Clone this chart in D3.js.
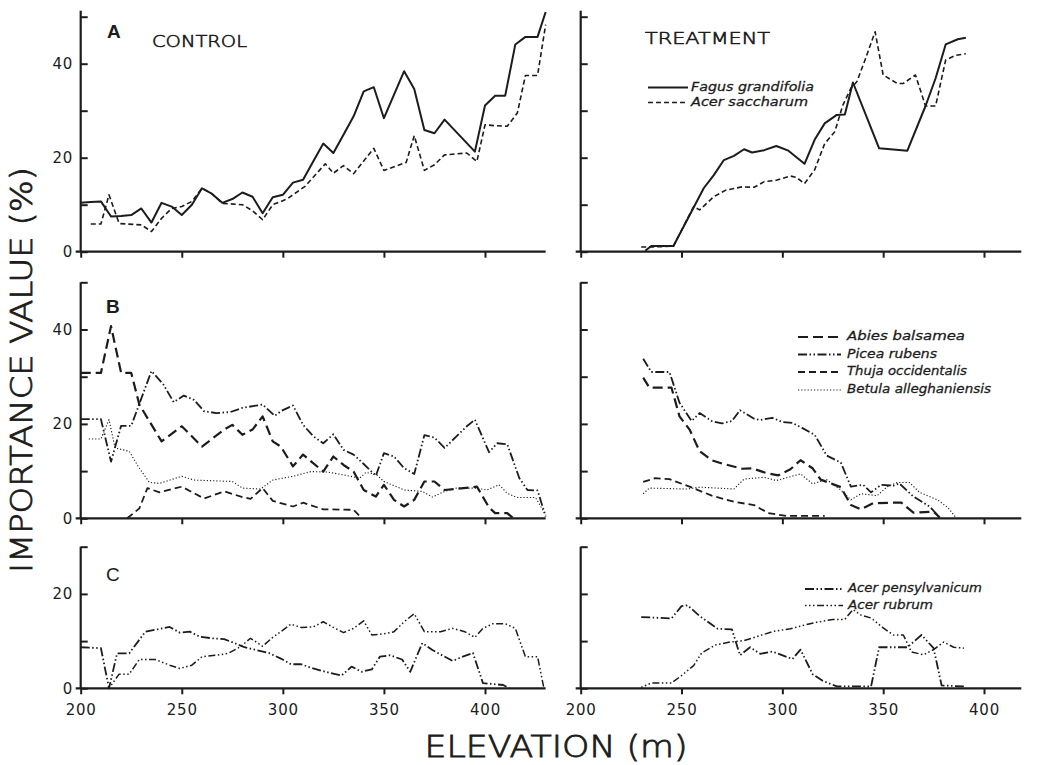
<!DOCTYPE html>
<html><head><meta charset="utf-8">
<script src="https://cdn.jsdelivr.net/npm/d3@7"></script>
<style>body{margin:0;background:#fff}</style>
</head><body><svg id="c" width="1047" height="765"></svg>
<script>
// ---------- DATA: [elevation (m), importance value (%)] ----------
// Panel A
const ctrlFagus = [[200,10.4],[205,10.6],[210,10.7],[215,7.5],[220,7.6],[225,7.8],[230,9.2],[235,6.2],[240,10.4],[245,9.6],[250,7.8],[255,10],[260,13.5],[265,12.3],[270,10.4],[275,11.2],[280,12.6],[285,11.7],[290,8.2],[295,11.6],[300,12.1],[305,14.7],[310,15.3],[315,19.2],[320,23],[325,21],[330,24.9],[335,28.8],[340,34.1],[345,35],[350,28.4],[355,33.4],[360,38.4],[365,34.6],[370,25.9],[375,25.2],[380,28.1],[395,21.3],[400,31.1],[405,33.2],[410,33.2],[415,44.1],[420,45.7],[426,45.7],[430,51]];
const ctrlAcerSacch = [[205,5.9],[210,5.9],[214,12.1],[219,6],[230,5.7],[235,4.3],[240,7.1],[245,9.2],[250,9.6],[255,10.7],[260,13.5],[265,12.3],[270,10.3],[280,10],[285,8.7],[290,6.8],[295,10],[302,11.2],[311,13.9],[316,16.3],[321,18.7],[325,16.7],[330,18.3],[335,16.6],[345,22],[350,17.3],[361,19],[365,24.7],[370,17.3],[375,18.5],[380,20.6],[391,21],[396,19.2],[400,27],[405,26.8],[411,26.7],[416,29.5],[420,37.5],[426,37.5],[430,48.3]];
const trtFagus = [[232,0.2],[235,1.2],[246,1.2],[261,13.5],[266,16.3],[271,19.5],[276,20.4],[281,21.8],[285,21.1],[291,21.6],[297,22.5],[303,21.5],[311,18.7],[316,23.8],[321,27.3],[327,29.1],[331,29.2],[335,36],[348,22],[362,21.5],[371,31],[376,36.9],[381,44.1],[387,45.2],[391,45.5]];
const trtAcerSacch = [[230,1],[236,1],[246,1.2],[256,9.6],[259,8.9],[266,11.7],[272,13.1],[280,13.8],[286,13.7],[291,14.9],[297,15.2],[304,16.1],[307,15.8],[311,14.5],[316,17.4],[321,23],[326,25.5],[330,31.2],[334,34.8],[337,36.2],[341,40.8],[346,46.8],[350,37.6],[357,35.8],[360,35.8],[366,37.6],[371,31],[376,31],[381,40.8],[386,41.8],[391,42.1]];
// Panel B
const ctrlAbies = [[200,30.8],[210,30.8],[215,40.7],[220,30.8],[225,30.8],[229,24.1],[240,16.3],[250,19.5],[260,15.2],[271,18.8],[275,19.8],[280,17.7],[285,18.8],[290,21.6],[295,16.3],[299,15.2],[305,11],[310,13.5],[320,9.9],[325,13.1],[330,11.3],[335,9.9],[340,6],[346,4.6],[350,7.1],[355,3.9],[360,2.5],[365,3.9],[370,7.8],[375,7.8],[380,6],[396,6.7],[402,2.3],[405,1.1],[411,1.1],[414,0]];
const ctrlPicea = [[200,21],[210,21],[215,12],[220,19.6],[225,19.6],[235,31.2],[241,28.3],[246,24.6],[251,26],[256,25.1],[261,22.7],[267,22.3],[274,22.5],[280,23.4],[290,24.1],[296,21.7],[299,22.7],[305,23.9],[310,19.8],[315,17.4],[320,15.9],[325,17.8],[330,14.5],[335,13.5],[340,11.5],[346,9],[350,13.8],[355,13.1],[360,10.6],[365,9.4],[370,17.6],[375,17.1],[380,14.9],[386,17.4],[391,19.5],[395,20.9],[402,14],[406,15.9],[411,15.7],[417,8.5],[421,6],[426,5.9],[430,0.4]];
const ctrlThuja = [[223,0],[229,2.1],[233,6.4],[239,5.5],[250,6.7],[261,4.2],[271,5.7],[280,4.5],[284,4.1],[290,6.4],[295,3.7],[305,2.5],[310,3.3],[320,1.9],[335,1.8],[339,0]];
const ctrlBetula = [[204,16.8],[210,16.8],[214,20.9],[217,14.9],[224,14.2],[229,10.6],[234,7.6],[239,7.4],[250,8.9],[256,8.1],[275,7.8],[280,6.4],[289,6.2],[295,8.1],[305,8.9],[314,9.9],[322,9.8],[330,9.2],[338,8.5],[341,9.7],[346,9.4],[350,7.8],[360,6],[369,5.7],[374,4.5],[380,5.7],[386,6.4],[395,6.4],[401,6],[407,7.1],[411,5.3],[416,4.4],[425,4.4],[430,0.7]];
const trtAbies = [[231,29.8],[234,27.7],[245,27.7],[249,21.6],[254,18.8],[259,14.2],[265,12.3],[271,11.5],[280,10.5],[285,10.6],[292,9.6],[298,9.1],[304,10.4],[309,12.3],[315,10.6],[319,8.2],[329,6.6],[334,2.8],[339,1.9],[345,3.2],[355,3.3],[359,3.3],[365,1.2],[375,1.4],[378,0.2]];
const trtPicea = [[231,33.8],[235,31],[244,31],[249,24.5],[255,20.6],[259,22.3],[265,20.6],[270,20.1],[275,20.6],[279,22.9],[286,21.1],[289,20.8],[295,21.3],[300,20.4],[305,20.2],[310,19.1],[316,17.7],[322,13.3],[329,11.8],[334,6.7],[340,7.1],[344,5.5],[349,7.1],[355,6.9],[358,7.4],[365,4.6],[373,2.5],[378,0.2]];
const trtThuja = [[231,7.7],[237,8.5],[244,8.3],[254,6.7],[265,4.8],[276,3.5],[286,2.8],[293,1.1],[302,0.5],[321,0.5]];
const trtBetula = [[231,5.2],[234,6.4],[253,6.2],[259,6.6],[276,6.2],[281,8.3],[291,8.7],[297,8],[309,9.4],[315,7.3],[322,8.2],[329,6],[334,3.9],[339,5.2],[347,4.8],[352,6.7],[357,7.6],[363,7.6],[368,5.5],[377,3.9],[382,2.3],[386,0.2]];
// Panel C
const ctrlPensyl = [[200,8.7],[210,8.5],[214,0],[218,7.4],[224,7.4],[232,12],[238,12.5],[244,13],[249,11.8],[254,12],[259,10.9],[265,10.6],[271,10.4],[276,9.6],[281,8.7],[287,8.1],[293,7.5],[299,6.3],[304,5.1],[309,5.1],[315,4.2],[321,3.5],[329,2.7],[334,4.6],[339,3.5],[344,4],[348,6.7],[353,7],[359,6.1],[363,3.5],[369,9.6],[374,8.1],[384,5.8],[389,6.7],[394,7.5],[399,1.1],[409,0.7],[412,0]];
const ctrlRubrum = [[214,0],[219,3],[224,3],[229,6.1],[237,6.1],[244,4.9],[249,4.2],[255,4.9],[260,6.7],[267,7],[273,7.4],[279,8.8],[284,10.6],[290,8.9],[295,10.8],[299,12],[304,13.6],[309,12.9],[315,13],[320,14.1],[325,12.9],[330,11.8],[335,12.7],[340,14.3],[344,11.3],[351,11.6],[355,12],[360,14.1],[365,15.8],[370,12],[378,12],[384,12.7],[390,12],[395,10.8],[399,12.7],[404,13.7],[410,13.7],[415,12.7],[420,6.7],[426,6.7],[429,0.3]];
const trtPensyl = [[230,15.1],[245,14.8],[250,17.4],[253,17.6],[259,15.3],[268,12.6],[275,12.5],[279,7],[284,8.7],[289,7.3],[295,7.8],[305,6.2],[309,8.2],[315,3],[320,1.6],[327,0.4],[344,0.4],[348,8.7],[362,8.7],[369,11.3],[375,8.5],[379,0.6],[390,0.4]];
const trtRubrum = [[230,0.2],[235,1.1],[245,1.1],[250,2.7],[256,4.8],[260,7.5],[267,9.2],[274,9.8],[281,10.1],[287,10.9],[296,12.1],[304,12.6],[310,13.3],[317,14],[325,14.6],[331,14.6],[335,16.7],[339,15.5],[344,14.9],[350,12.8],[355,11.3],[360,11.3],[364,7.7],[370,7.1],[375,8.2],[380,9.8],[385,8.7],[390,8.5]];

// tick values / labels
const xTicks = [200,250,300,350,400];
const yTicksAB = [0,10,20,30,40,50];
const yLabelsAB = [0,20,40];
const yTicksC = [0,10,20,30];
const yLabelsC = [0,20];
const panelLetters = ["A","B","C"];
const colTitles = ["CONTROL","TREATMENT"];
const legendA = ["Fagus grandifolia","Acer saccharum"];
const legendB = ["Abies balsamea","Picea rubens","Thuja occidentalis","Betula alleghaniensis"];
const legendC = ["Acer pensylvanicum","Acer rubrum"];

// ---------- STYLES ----------
const ink = "#1c1c1c";
const st = {
  fagus:  {dash:null, w:2},
  sacch:  {dash:"5,3", w:1.6},
  abies:  {dash:"10,5", w:2.2},
  picea:  {dash:"9,2.5,1.5,2.5,1.5,2.5", w:1.8},
  thuja:  {dash:"7,4", w:1.8},
  betula: {dash:"1.2,2", w:1.1},
  pensyl: {dash:"9,2.5,1.5,2.5,1.5,2.5", w:1.8},
  rubrum: {dash:"1.5,2.5,1.5,2.5,1.5,2.5,7,2.5", w:1.5}
};

const svg = d3.select("#c");
const fontTick = "'DejaVu Sans', sans-serif";

const cols = [
  {x: d3.scaleLinear([200,430],[80.7, 80.7+230*2.0215])},
  {x: d3.scaleLinear([200,418.5],[580.7, 580.7+218.5*2.0165])}
];
const rows = [
  {y: d3.scaleLinear([0,50],[251.7,16.7]), ticks:yTicksAB, labels:yLabelsAB, ext:6,
   series:[[ [ctrlFagus,"fagus"],[ctrlAcerSacch,"sacch"] ], [ [trtFagus,"fagus"],[trtAcerSacch,"sacch"] ]]},
  {y: d3.scaleLinear([0,50],[518.3,282.3]), ticks:yTicksAB, labels:yLabelsAB, ext:0,
   series:[[ [ctrlAbies,"abies"],[ctrlPicea,"picea"],[ctrlThuja,"thuja"],[ctrlBetula,"betula"] ],
           [ [trtAbies,"abies"],[trtPicea,"picea"],[trtThuja,"thuja"],[trtBetula,"betula"] ]]},
  {y: d3.scaleLinear([0,30],[688.3,546.7]), ticks:yTicksC, labels:yLabelsC, ext:0,
   series:[[ [ctrlPensyl,"pensyl"],[ctrlRubrum,"rubrum"] ], [ [trtPensyl,"pensyl"],[trtRubrum,"rubrum"] ]]}
];

rows.forEach((row, ri) => {
  cols.forEach((col, ci) => {
    const x = col.x, y = row.y;
    const g = svg.append("g");
    // y axis
    const ya = g.append("g").attr("transform", `translate(${x(200)},0)`)
      .call(d3.axisLeft(y).tickValues(row.ticks).tickSizeInner(-7).tickSizeOuter(0).tickPadding(8)
        .tickFormat(d => (ci === 0 && row.labels.includes(d)) ? d : ""));
    ya.select(".domain").remove();
    ya.selectAll("line").attr("stroke", ink).attr("stroke-width", 2);
    ya.selectAll("text").attr("font-family", fontTick).attr("font-size", 15).attr("fill", ink).attr("letter-spacing", 0.5);
    g.append("line").attr("x1", x(200)).attr("x2", x(200))
      .attr("y1", y(0)).attr("y2", y(row.ticks[row.ticks.length-1]) - row.ext)
      .attr("stroke", ink).attr("stroke-width", 2.2);
    // x axis
    const xa = g.append("g").attr("transform", `translate(0,${y(0)})`)
      .call(d3.axisBottom(x).tickValues(xTicks).tickSizeInner(6).tickSizeOuter(0).tickPadding(10)
        .tickFormat(d => ri === 2 ? d : ""));
    xa.select(".domain").remove();
    xa.selectAll("line").attr("stroke", ink).attr("stroke-width", 2);
    xa.selectAll("text").attr("font-family", fontTick).attr("font-size", 15).attr("fill", ink).attr("letter-spacing", 0.8);
    g.append("line").attr("x1", x(200) - 5).attr("x2", x.range()[1])
      .attr("y1", y(0)).attr("y2", y(0)).attr("stroke", ink).attr("stroke-width", 2.2);
    // data lines
    const line = d3.line().x(d => x(d[0])).y(d => y(d[1]));
    row.series[ci].forEach(([data, key]) => {
      const s = st[key];
      g.append("path").datum(data).attr("d", line)
        .attr("fill", "none").attr("stroke", ink).attr("stroke-width", s.w)
        .attr("stroke-dasharray", s.dash).attr("stroke-linejoin", "round");
    });
  });
});

// panel letters
const letterPos = [[107,38,"bold"],[106,313,"bold"],[106,581,"normal"]];
panelLetters.forEach((t,i) => {
  svg.append("text").attr("x", letterPos[i][0]).attr("y", letterPos[i][1])
    .attr("font-family", "'Liberation Sans', Arial, sans-serif").attr("font-size", 19)
    .attr("font-weight", letterPos[i][2]).attr("fill", ink).text(t);
});

// column titles
svg.append("text").attr("x", 152).attr("y", 46.5).attr("font-family", fontTick).attr("font-weight", 200)
  .attr("stroke", ink).attr("stroke-width", 0.6)
  .attr("font-size", 16).attr("fill", ink).attr("textLength", 95).attr("lengthAdjust", "spacingAndGlyphs").text(colTitles[0]);
svg.append("text").attr("x", 645).attr("y", 44).attr("font-family", fontTick).attr("font-weight", 200)
  .attr("stroke", ink).attr("stroke-width", 0.6)
  .attr("font-size", 16).attr("fill", ink).attr("textLength", 125).attr("lengthAdjust", "spacingAndGlyphs").text(colTitles[1]);

// axis titles
svg.append("text").attr("transform", "translate(32,370) rotate(-90)").attr("text-anchor", "middle")
  .attr("font-family", fontTick).attr("font-weight", 200).attr("font-size", 30).attr("fill", ink)
  .attr("stroke", ink).attr("stroke-width", 0.8)
  .attr("textLength", 406).attr("lengthAdjust", "spacingAndGlyphs").text("IMPORTANCE VALUE (%)");
svg.append("text").attr("x", 556).attr("y", 757).attr("text-anchor", "middle")
  .attr("font-family", fontTick).attr("font-weight", 200).attr("font-size", 30).attr("fill", ink)
  .attr("stroke", ink).attr("stroke-width", 0.8)
  .attr("textLength", 263).attr("lengthAdjust", "spacingAndGlyphs").text("ELEVATION (m)");

// legends
function legend(items, keys, x1, x2, tx, baselines, widths) {
  items.forEach((t, i) => {
    const s = st[keys[i]];
    svg.append("line").attr("x1", x1).attr("x2", x2).attr("y1", baselines[i] - 3).attr("y2", baselines[i] - 3)
      .attr("stroke", ink).attr("stroke-width", Math.min(s.w, 1.8)).attr("stroke-dasharray", s.dash);
    svg.append("text").attr("x", tx).attr("y", baselines[i])
      .attr("font-family", fontTick).attr("font-style", "italic").attr("font-size", 13).attr("fill", ink)
      .attr("stroke", ink).attr("stroke-width", 0.3)
      .attr("textLength", widths[i]).attr("lengthAdjust", "spacingAndGlyphs").text(t);
  });
}
legend(legendA, ["fagus","sacch"], 648, 688, 691, [90.5,105.5], [123,117]);
legend(legendB, ["abies","picea","thuja","betula"], 798, 841, 847, [340,357.5,375,393], [118,90,120,144]);
legend(legendC, ["pensyl","rubrum"], 805, 843, 848, [592,608.5], [134,85]);
</script>
</body></html>
